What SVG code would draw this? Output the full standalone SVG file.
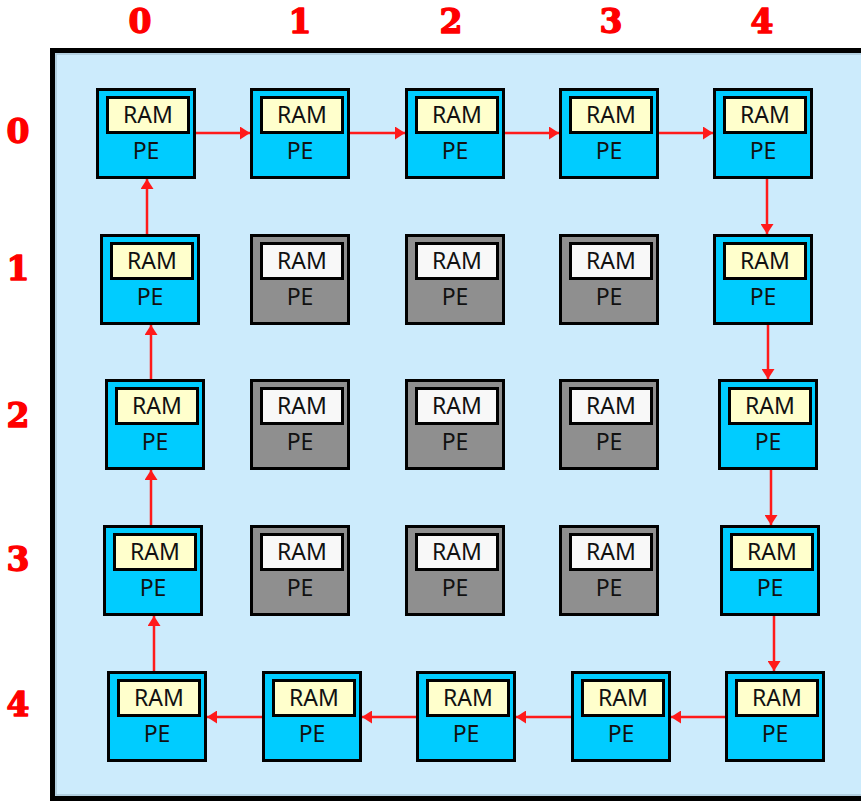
<svg xmlns="http://www.w3.org/2000/svg" width="861" height="802" viewBox="0 0 861 802">
  <defs>
    <style>
      .frame { fill: #CCEBFC; stroke: #000; stroke-width: 5; }
      .frame-inner { fill: none; stroke: #A9C6D6; stroke-width: 1.5; }
      .pe { stroke: #000; stroke-width: 3; }
      .pe.on { fill: #00CCFF; }
      .pe.off { fill: #8F8F8F; }
      .ram { stroke: #000; stroke-width: 3; }
      .ram.on { fill: #FFFFCC; }
      .ram.off { fill: #F8F8F8; }
      .lbl { font-family: "Noto Sans", "Liberation Sans", sans-serif; font-size: 23px; fill: #111; text-anchor: middle; }
      .idx { font-family: "DejaVu Serif", "Liberation Serif", serif; font-weight: bold; font-size: 33px; fill: #FF0000; stroke: #FF0000; stroke-width: 1.4; stroke-linejoin: round; text-anchor: middle; }
      .link { stroke: #FF1A1A; stroke-width: 2.5; fill: none; marker-end: url(#head); }
    </style>
    <marker id="head" markerUnits="userSpaceOnUse" markerWidth="11" markerHeight="13" refX="10" refY="6.5" orient="auto">
      <path d="M0,0 L10,6.5 L0,13 Z" fill="#FF1A1A"/>
    </marker>
    <g id="pe-on">
      <rect class="pe on" x="1.5" y="1.5" width="97" height="88"/>
      <rect class="ram on" x="11.5" y="9.5" width="81" height="35"/>
      <text class="lbl" x="52" y="35">RAM</text>
      <text class="lbl" x="50" y="71">PE</text>
    </g>
    <g id="pe-off">
      <rect class="pe off" x="1.5" y="1.5" width="97" height="88"/>
      <rect class="ram off" x="11.5" y="9.5" width="81" height="35"/>
      <text class="lbl" x="52" y="35">RAM</text>
      <text class="lbl" x="50" y="71">PE</text>
    </g>
  </defs>

  <rect width="861" height="802" fill="#fff"/>

  <!-- outer board -->
  <rect class="frame" x="52.5" y="50.5" width="830" height="748"/>
  <rect class="frame-inner" x="56" y="54" width="820" height="741"/>

  <!-- column indices -->
  <g id="col-labels">
    <text class="idx" x="140" y="33">0</text>
    <text class="idx" x="300" y="33">1</text>
    <text class="idx" x="451" y="33">2</text>
    <text class="idx" x="611" y="33">3</text>
    <text class="idx" x="762" y="33">4</text>
  </g>
  <!-- row indices -->
  <g id="row-labels">
    <text class="idx" x="18" y="143">0</text>
    <text class="idx" x="18" y="280">1</text>
    <text class="idx" x="18" y="427">2</text>
    <text class="idx" x="18" y="571">3</text>
    <text class="idx" x="18" y="716">4</text>
  </g>

  <!-- processing elements -->
  <g id="pe-0-0" transform="translate(96,88)"><use href="#pe-on"/></g>
  <g id="pe-1-0" transform="translate(250,88)"><use href="#pe-on"/></g>
  <g id="pe-2-0" transform="translate(405,88)"><use href="#pe-on"/></g>
  <g id="pe-3-0" transform="translate(559,88)"><use href="#pe-on"/></g>
  <g id="pe-4-0" transform="translate(713,88)"><use href="#pe-on"/></g>

  <g id="pe-0-1" transform="translate(100,234)"><use href="#pe-on"/></g>
  <g id="pe-1-1" transform="translate(250,234)"><use href="#pe-off"/></g>
  <g id="pe-2-1" transform="translate(405,234)"><use href="#pe-off"/></g>
  <g id="pe-3-1" transform="translate(559,234)"><use href="#pe-off"/></g>
  <g id="pe-4-1" transform="translate(713,234)"><use href="#pe-on"/></g>

  <g id="pe-0-2" transform="translate(105,379)"><use href="#pe-on"/></g>
  <g id="pe-1-2" transform="translate(250,379)"><use href="#pe-off"/></g>
  <g id="pe-2-2" transform="translate(405,379)"><use href="#pe-off"/></g>
  <g id="pe-3-2" transform="translate(559,379)"><use href="#pe-off"/></g>
  <g id="pe-4-2" transform="translate(718,379)"><use href="#pe-on"/></g>

  <g id="pe-0-3" transform="translate(103,525)"><use href="#pe-on"/></g>
  <g id="pe-1-3" transform="translate(250,525)"><use href="#pe-off"/></g>
  <g id="pe-2-3" transform="translate(405,525)"><use href="#pe-off"/></g>
  <g id="pe-3-3" transform="translate(559,525)"><use href="#pe-off"/></g>
  <g id="pe-4-3" transform="translate(720,525)"><use href="#pe-on"/></g>

  <g id="pe-0-4" transform="translate(107,671)"><use href="#pe-on"/></g>
  <g id="pe-1-4" transform="translate(262,671)"><use href="#pe-on"/></g>
  <g id="pe-2-4" transform="translate(416,671)"><use href="#pe-on"/></g>
  <g id="pe-3-4" transform="translate(571,671)"><use href="#pe-on"/></g>
  <g id="pe-4-4" transform="translate(725,671)"><use href="#pe-on"/></g>

  <!-- ring of links around the border -->
  <g id="connectors">
    <!-- top row, left to right -->
    <line class="link" x1="196" y1="133" x2="250" y2="133"/>
    <line class="link" x1="350" y1="133" x2="405" y2="133"/>
    <line class="link" x1="505" y1="133" x2="559" y2="133"/>
    <line class="link" x1="659" y1="133" x2="713" y2="133"/>
    <!-- right column, downward -->
    <line class="link" x1="767" y1="179" x2="767" y2="234"/>
    <line class="link" x1="768" y1="325" x2="768" y2="379"/>
    <line class="link" x1="771" y1="470" x2="771" y2="525"/>
    <line class="link" x1="774" y1="616" x2="774" y2="671"/>
    <!-- bottom row, right to left -->
    <line class="link" x1="725" y1="717" x2="671" y2="717"/>
    <line class="link" x1="571" y1="717" x2="516" y2="717"/>
    <line class="link" x1="416" y1="717" x2="362" y2="717"/>
    <line class="link" x1="262" y1="717" x2="207" y2="717"/>
    <!-- left column, upward -->
    <line class="link" x1="154" y1="671" x2="154" y2="616"/>
    <line class="link" x1="151" y1="525" x2="151" y2="470"/>
    <line class="link" x1="151" y1="379" x2="151" y2="325"/>
    <line class="link" x1="147" y1="234" x2="147" y2="179"/>
  </g>
</svg>
